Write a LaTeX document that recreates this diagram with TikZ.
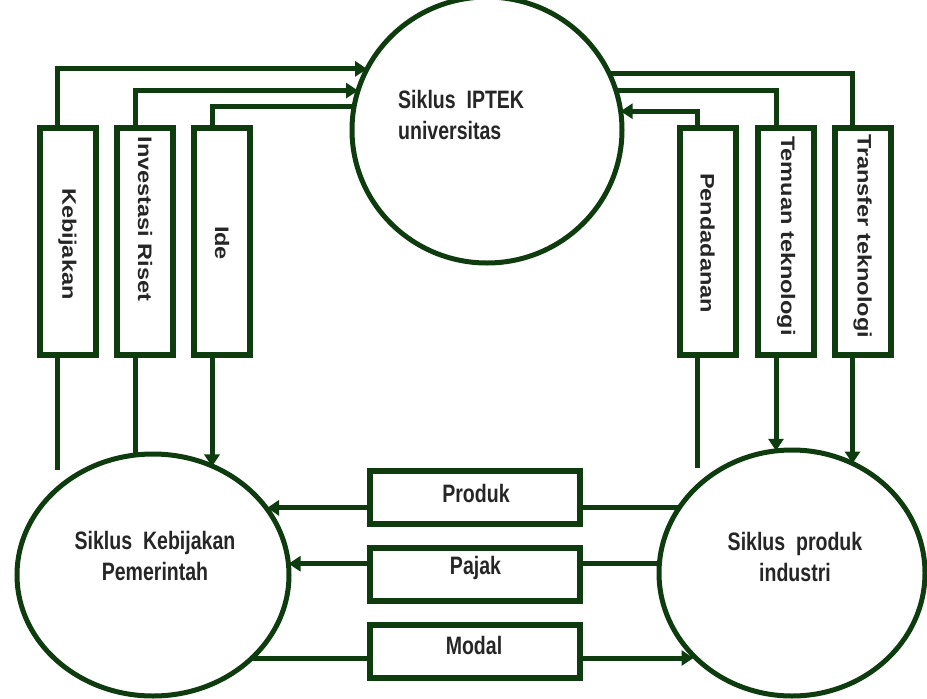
\documentclass[tikz,border=0pt]{standalone}
\usepackage{graphicx}
\usepackage{fontspec}
\setmainfont{Liberation Sans}
\usetikzlibrary{shapes.geometric,arrows.meta}
\definecolor{dg}{RGB}{14,60,14}
\newcommand{\vtxt}[1]{\rotatebox{-90}{\scalebox{1.12}[0.93]{\bfseries #1}}}
\newcommand{\hztxt}[1]{\scalebox{0.93}[1.2]{\bfseries #1}}
\begin{document}
\begin{tikzpicture}[x=1pt,y=-1pt,
  conn/.style={draw=dg, line width=5pt},
  arr/.style={conn, -{Triangle[width=15pt,length=12pt]}},
  cyc/.style={ellipse, draw=dg, line width=5pt, inner sep=0pt, outer sep=0pt},
  vbox/.style={rectangle, draw=dg, line width=6pt, minimum width=56pt, minimum height=227pt, inner sep=0pt, outer sep=0pt},
  hbox/.style={rectangle, draw=dg, line width=6pt, minimum width=210pt, minimum height=53pt, inner sep=0pt, outer sep=0pt},
  lbl/.style={font=\fontsize{21}{31}\selectfont, inner sep=0pt, text=black!85}]
\useasboundingbox (0,0) rectangle (927,699);
\clip (0,0) rectangle (927,699);
\fill[white] (0,0) rectangle (927,699);
% cycles
\node[cyc, minimum width=270pt, minimum height=266pt] (iptek) at (487,130) {};
\node[cyc, minimum width=272pt, minimum height=242pt] (gov) at (153,575) {};
\node[cyc, minimum width=266pt, minimum height=246pt] (ind) at (792,573) {};
\node[lbl, anchor=west, align=left] (tiptek) at (398,115) {\hztxt{Siklus~~IPTEK}\\\hztxt{universitas}};
\node[lbl, align=center] (tgov) at (155,556) {\hztxt{Siklus~~Kebijakan}\\\hztxt{Pemerintah}};
\node[lbl, align=center] (tind) at (795,557) {\hztxt{Siklus~~produk}\\\hztxt{industri}};
% vertical boxes
\node[vbox] (keb) at (67.5,241) {};
\node[vbox] (inv) at (145,241) {};
\node[vbox] (ide) at (222,241) {};
\node[vbox] (pend) at (707.5,241) {};
\node[vbox] (tem) at (786,241) {};
\node[vbox] (trans) at (862.5,241) {};
\node[lbl] (tkeb) at (67.5,244) {\vtxt{Kebijakan}};
\node[lbl] (tinv) at (145,219) {\vtxt{Investasi Riset}};
\node[lbl] (tide) at (222,243) {\vtxt{Ide}};
\node[lbl] (tpend) at (707.5,243) {\vtxt{Pendadanan}};
\node[lbl] (ttem) at (786,236) {\vtxt{Temuan teknologi}};
\node[lbl] (ttrans) at (862.5,236) {\vtxt{Transfer teknologi}};
% horizontal boxes
\node[hbox] (prod) at (474.5,497.5) {};
\node[hbox] (pajak) at (474.5,574) {};
\node[hbox] (modal) at (474.5,651) {};
\node[lbl] (tprod) at (476,493) {\hztxt{Produk}};
\node[lbl] (tpajak) at (475.5,568) {\hztxt{Pajak}};
\node[lbl] (tmodal) at (474,645) {\hztxt{Modal}};
% top connectors
\draw[arr] ([xshift=-10pt]keb.north) |- (iptek.153.9);
\draw[arr] ([xshift=-10pt]inv.north) |- (iptek.163);
\draw[conn] ([xshift=-10pt]ide.north) |- (iptek.170.8);
\draw[arr] ([xshift=-10pt]pend.north) |- (iptek.8.4);
\draw[conn] ([xshift=-10pt]tem.north) |- (iptek.17);
\draw[conn] ([xshift=-10pt]trans.north) |- (iptek.25.1);
% bottom connectors
\coordinate (kebend) at (57.5,470);
\coordinate (pendend) at (697.5,468);
\draw[conn] ([xshift=-10pt]keb.south) -- (kebend);
\draw[conn] ([xshift=-10pt]inv.south) -- ([xshift=-10pt]inv.south |- gov.98.4);
\draw[arr] ([xshift=-10pt]ide.south) -- ([xshift=-10pt]ide.south |- gov.61.6);
\draw[conn] ([xshift=-10pt]pend.south) -- (pendend);
\draw[arr] ([xshift=-10pt]tem.south) -- ([xshift=-10pt]tem.south |- ind.97.8);
\draw[arr] ([xshift=-10pt]trans.south) -- ([xshift=-10pt]trans.south |- ind.61.3);
% horizontal connectors
\draw[conn] (ind.150.6) -- (ind.150.6 -| prod.east);
\draw[arr] (prod.west |- ind.150.6) -- (gov.30.1 |- ind.150.6);
\draw[conn] (ind.176.6) -- (ind.176.6 -| pajak.east);
\draw[arr] (pajak.west |- ind.176.6) -- (gov.4.2 |- ind.176.6);
\draw[conn] (gov.320.8) -- (gov.320.8 -| modal.west);
\draw[arr] (modal.east |- gov.320.8) -- (ind.220.65 |- gov.320.8);
\end{tikzpicture}
\end{document}
